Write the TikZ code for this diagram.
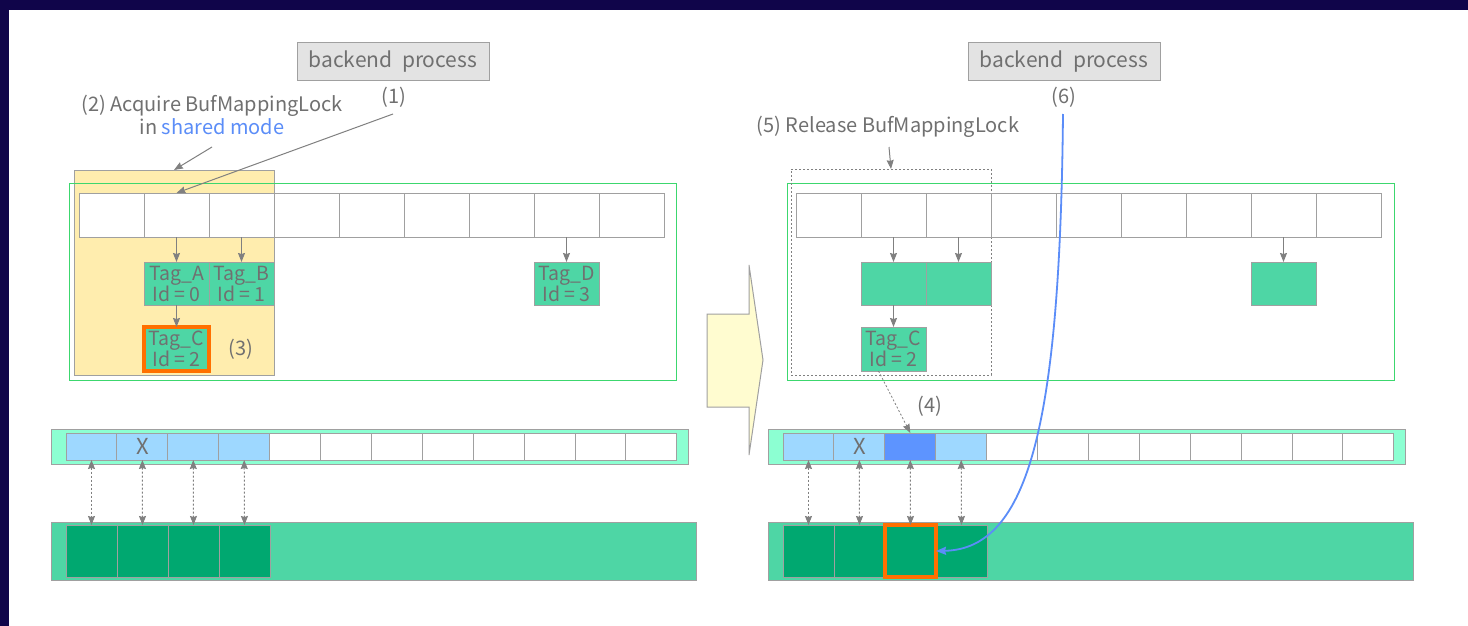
\documentclass[tikz,border=0pt]{standalone}
\usepackage{fontspec}
\setmainfont{Noto Sans CJK KR}
\usetikzlibrary{arrows.meta}
\definecolor{frame}{RGB}{16,5,74}
\definecolor{txt}{RGB}{112,112,112}
\definecolor{edge}{RGB}{160,160,160}
\definecolor{ink}{RGB}{128,128,128}
\definecolor{tagfill}{RGB}{78,214,165}
\definecolor{darkcell}{RGB}{0,168,112}
\definecolor{aqua}{RGB}{140,255,210}
\definecolor{lblue}{RGB}{158,216,255}
\definecolor{mblue}{RGB}{93,148,255}
\definecolor{curve}{RGB}{91,141,248}
\definecolor{lockyellow}{RGB}{255,237,174}
\definecolor{orng}{RGB}{255,112,0}
\definecolor{grn}{RGB}{60,215,110}
\definecolor{arrowfill}{RGB}{255,252,208}
\definecolor{procfill}{RGB}{227,227,227}
\begin{document}
\begin{tikzpicture}[x=1pt,y=-1pt,
  font=\fontsize{17}{20}\selectfont, text=txt,
  box/.style={draw=edge, line width=1pt, inner sep=0pt, outer sep=0pt, anchor=north west},
  slot/.style={box, fill=white, minimum width=65pt, minimum height=44pt},
  tagbox/.style={box, fill=tagfill, minimum width=65pt, minimum height=43pt, align=center,
    font=\fontsize{19.5}{21}\selectfont},
  proc/.style={box, fill=procfill, minimum width=192pt, minimum height=38pt,
    font=\fontsize{21}{24}\selectfont},
  bcell/.style={box, minimum width=51pt, minimum height=27pt},
  dcell/.style={box, fill=darkcell, minimum width=51pt, minimum height=52pt},
  lbl/.style={inner sep=0pt, font=\fontsize{20}{23}\selectfont},
  arr/.style={draw=ink, line width=1pt, -{Stealth[length=9pt,width=7pt,inset=1pt]}},
  darr/.style={draw=ink, line width=1pt, dash pattern=on 2pt off 2pt,
    {Stealth[length=9pt,width=7pt,inset=1pt]}-{Stealth[length=9pt,width=7pt,inset=1pt]}},
  hl/.style={draw=orng, line width=3.5pt}
]
% background and frame
\fill[white] (0,0) rectangle (1468,626);
\useasboundingbox (0,0) rectangle (1468,626);
\fill[frame] (0,0) rectangle (1468,10);
\fill[frame] (0,0) rectangle (9,626);

% ================= LEFT PANEL =================
\node[proc] (procL) at (297,43) {backend\hspace{0.45em}process};
\node[lbl] (p1) at (394,97) {(1)};
\node[lbl, align=center, font=\fontsize{20}{23}\selectfont] (p2) at (212,115)
  {(2) Acquire BufMappingLock\\in \textcolor{curve}{shared mode}};

\node[box, fill=lockyellow, minimum width=200pt, minimum height=205pt] (lock) at (74,170) {};
\node[box, draw=grn, minimum width=607pt, minimum height=197pt] (hashL) at (69,183) {};
\foreach \i in {0,...,8} { \node[slot] (Lc\i) at ({79+65*\i},193) {}; }
\node[tagbox] (LA) at (144,262) {Tag\_A\\Id = 0};
\node[tagbox] (LB) at (209,262) {Tag\_B\\Id = 1};
\node[tagbox] (LD) at (534,262) {Tag\_D\\Id = 3};
\node[tagbox, hl, minimum height=44pt] (LC) at (144,327) {Tag\_C\\Id = 2};
\node[lbl] (p3) at (241,349) {(3)};

\coordinate (c1) at (393,114);
\coordinate (c2) at (212,147);
\draw[arr] (c1) -- (Lc1.north);
\draw[arr] (c2) -- (lock.north);
\draw[arr] (Lc1.south) -- (LA.north);
\draw[arr] (Lc2.south) -- (LB.north);
\draw[arr] (Lc7.south) -- (LD.north);
\draw[arr] (LA.south) -- (LC.north);

\node[box, fill=aqua, minimum width=637pt, minimum height=35pt] (barL) at (51,429) {};
\node[box, fill=tagfill, minimum width=645pt, minimum height=58pt] (poolL) at (51,522) {};
\foreach \i/\c in {0/lblue,1/lblue,2/lblue,3/lblue,4/white,5/white,6/white,7/white,8/white,9/white,10/white,11/white}
  { \node[bcell, fill=\c] (Lb\i) at ({66+50.9*\i},433) {}; }
\node[lbl, font=\fontsize{22}{24}\selectfont] (xL) at (Lb1.center) {X};
\foreach \i in {0,...,3} { \node[dcell] (Ld\i) at ({66+51*\i},525) {}; }
\foreach \i in {0,...,3} { \draw[darr] (Lb\i.south) -- (Ld\i.north); }

% ================= BIG ARROW =================
\draw[draw=edge, line width=1pt, fill=arrowfill] (707,314) -- (749,314) -- (749,265) -- (763,360)
  -- (749,455) -- (749,407) -- (707,407) -- cycle;

% ================= RIGHT PANEL =================
\node[proc] (procR) at (968,43) {backend\hspace{0.45em}process};
\node[lbl] (p6) at (1064,97) {(6)};
\node[lbl] (p5) at (888,127) {(5) Release BufMappingLock};

\node[box, draw=grn, minimum width=607pt, minimum height=197pt] (hashR) at (787,183) {};
\node[box, draw=ink, line width=0.8pt, dash pattern=on 2pt off 2pt, minimum width=200pt, minimum height=206pt] (rel) at (791,169) {};
\foreach \i in {0,...,8} { \node[slot] (Rc\i) at ({796+65*\i},193) {}; }
\node[tagbox] (RA) at (861,262) {};
\node[tagbox] (RB) at (926,262) {};
\node[tagbox] (RD) at (1251,262) {};
\node[tagbox, minimum height=44pt] (RC) at (861,327) {Tag\_C\\Id = 2};

\coordinate (c5) at (889,147);
\draw[arr] (c5) -- (rel.north);
\draw[arr] (Rc1.south) -- (RA.north);
\draw[arr] (Rc2.south) -- (RB.north);
\draw[arr] (Rc7.south) -- (RD.north);
\draw[arr] (RA.south) -- (RC.north);

\node[box, fill=aqua, minimum width=637pt, minimum height=35pt] (barR) at (768,429) {};
\node[box, fill=tagfill, minimum width=645pt, minimum height=58pt] (poolR) at (768,522) {};
\foreach \i/\c in {0/lblue,1/lblue,2/mblue,3/lblue,4/white,5/white,6/white,7/white,8/white,9/white,10/white,11/white}
  { \node[bcell, fill=\c] (Rb\i) at ({783+50.9*\i},433) {}; }
\node[lbl, font=\fontsize{22}{24}\selectfont] (xR) at (Rb1.center) {X};
\foreach \i in {0,1,3} { \node[dcell] (Rd\i) at ({783+51*\i},525) {}; }
\node[dcell, hl] (Rd2) at (885,525) {};
\foreach \i in {0,...,3} { \draw[darr] (Rb\i.south) -- (Rd\i.north); }

\node[lbl] (p4) at (930,406) {(4)};
\draw[draw=ink, line width=0.8pt, dash pattern=on 2pt off 2pt, -{Stealth[length=9pt,width=7pt,inset=1pt]}]
  ([xshift=-15pt]RC.south) -- (Rb2.north);

\coordinate (c6) at (1063,114);
\draw[curve, line width=1.8pt, -{Stealth[length=10pt,width=8pt,inset=1pt]}]
  (c6) .. controls (1060,420) and (1030,549) .. (Rd2.east);
\end{tikzpicture}
\end{document}
